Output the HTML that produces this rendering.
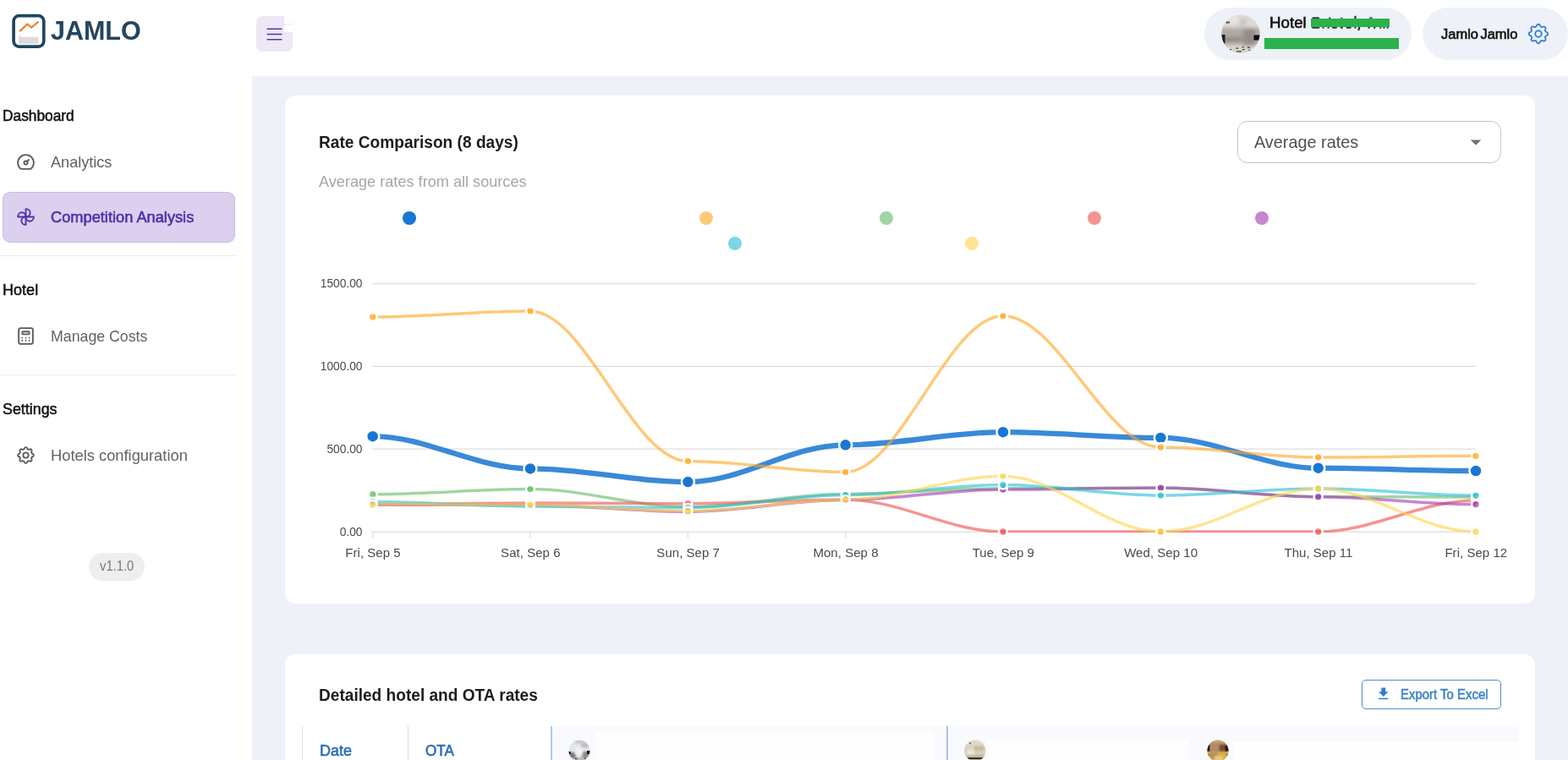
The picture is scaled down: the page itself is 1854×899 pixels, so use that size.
<!DOCTYPE html>
<html lang="en">
<head>
<meta charset="utf-8">
<title>JAMLO - Competition Analysis</title>
<style>
*{box-sizing:border-box}
html,body{margin:0;padding:0}
html{overflow:hidden;background:#fff}
body{width:1854px;height:899px;overflow:hidden;position:relative;background:#fff;
 font-family:"Liberation Sans",sans-serif;color:#212121}
.page{position:absolute;left:0;top:0;width:1854px;height:899px;overflow:hidden;background:#fff}
header,aside,nav,main,section{display:block;position:static;margin:0;padding:0}
.t{position:absolute;margin:0;padding:0;white-space:nowrap;font-weight:normal;text-decoration:none;display:block}
svg{display:block}
.ic{position:absolute}
.bg-main{position:absolute;left:298.3px;top:90px;width:1555.7px;height:809px;background:#eef1f7}
.card{position:absolute;background:#fff;border-radius:12px}
.sel{position:absolute;left:3px;top:227px;width:275px;height:59.5px;border-radius:9px;background:#dbd0ee;box-shadow:inset 0 0 0 1px rgba(110,90,160,.16)}
.hr{position:absolute;left:0;width:280px;height:1px;background:#ebebeb}
.chip{position:absolute;border-radius:31px;background:#eef1f7}
.vchip{position:absolute;left:105.2px;top:654px;width:66px;height:33.2px;border-radius:17px;background:#eeeeee}
.tog{position:absolute;left:303px;top:19px;width:43px;height:42px;border-radius:7px;background:#ede7f6}
.dot{position:absolute;width:16px;height:16px;border-radius:50%}
.select{position:absolute;left:1463px;top:143px;width:312px;height:50px;border:1px solid #c4c4c4;border-radius:12px;background:#fff}
.btn{position:absolute;left:1610px;top:804px;width:165px;height:34.6px;border:1px solid #4d8cc6;border-radius:5px;background:#fff}
.chart{position:absolute;left:337px;top:113px}
.green{position:absolute;background:#2ab24b}
</style>
</head>
<body>
<div class="page">
<div class="bg-main"></div>
<header>
<svg class="ic" style="left:12px;top:14px" width="44" height="46" viewBox="12 14 44 46" role="img" aria-label="logo"><rect x="16.1" y="18.6" width="35.7" height="36.5" rx="6.5" fill="#fff" stroke="#1f4561" stroke-width="3.7"/><path d="M22.2 52V42.1h1.8v1.7h20.2q1.3 0 1.3 1.4v6.8z" fill="#dcdcdf"/><path d="M23.2 37 32.3 28.5 37.2 32.4 45.6 25.6" fill="none" stroke="#e58b3d" stroke-width="2.4" stroke-linejoin="miter"/></svg>
<div class="t" style="top:15px;font-size:32px;line-height:42px;color:#24455f;font-weight:bold;left:60.04px;transform:scale(0.9528,1);transform-origin:0 32px;">JAMLO</div>
<div class="tog"></div><div style="position:absolute;left:336px;top:18px;width:11.5px;height:20px;background:#fff"></div><div style="position:absolute;left:336px;top:28px;width:10px;height:1px;background:#eeebf3"></div>
<svg class="ic" style="left:312.00px;top:28.00px" width="25" height="25" viewBox="0 0 24 24" fill="none" stroke="#5236a8" stroke-width="1.45" stroke-linecap="round" stroke-linejoin="round"><path d="M4 6l16 0"/><path d="M4 12l16 0"/><path d="M4 18l16 0"/></svg>
<div class="chip" style="left:1424px;top:9.3px;width:245px;height:61.4px"></div>
<svg class="ic" style="left:1443.5px;top:17px" width="46" height="46" viewBox="0 0 46 46"><defs><clipPath id="c0"><circle cx="23" cy="23" r="22.6"/></clipPath><filter id="b0" x="-30%" y="-30%" width="160%" height="160%"><feGaussianBlur stdDeviation="2.2"/></filter><filter id="b1" x="-50%" y="-50%" width="200%" height="200%"><feGaussianBlur stdDeviation="0.7"/></filter></defs><g clip-path="url(#c0)"><rect width="46" height="46" fill="#dddad6"/><g filter="url(#b0)"><rect x="-4" y="16" width="54" height="20" fill="#b1a9a4"/><rect x="26" y="17" width="14" height="20" fill="#988b89"/><rect x="3" y="27" width="22" height="5" fill="#8c8777"/><rect x="22" y="5" width="8" height="9" fill="#cbc3c0"/><rect x="-4" y="37" width="54" height="14" fill="#d6d3cd"/><rect x="8" y="2" width="12" height="8" fill="#e9e7e4"/></g><g filter="url(#b1)"><rect x="38.5" y="24.5" width="9" height="6" fill="#0b0a0e"/><rect x="-1" y="24" width="5.5" height="10.5" fill="#1a1d2d"/><rect x="5.5" y="8.5" width="4.5" height="2" fill="#55553f"/><g fill="#3b3b3b"><rect x="9" y="41" width="3" height="1.3"/><rect x="17.5" y="39.5" width="2.6" height="1.3"/><rect x="24.5" y="38" width="2.4" height="1.2"/><rect x="31" y="38.6" width="3" height="1.3"/><rect x="25" y="41" width="2.6" height="1.2"/><rect x="32.5" y="41.8" width="2" height="1.2"/><rect x="18" y="43.3" width="6" height="1.2"/></g></g></g></svg>
<span class="t" style="top:14px;font-size:18.9px;line-height:25px;color:#121212;-webkit-text-stroke:0.6px #121212;left:1500.80px;transform:scale(0.9919,1);transform-origin:0 19px;">Hotel</span>
<svg class="ic" style="left:1548px;top:17px" width="98" height="21" viewBox="1548 17 98 21" fill="#15151c" aria-hidden="true"><rect x="1551.4" y="20.2" width="8.6" height="2.2" rx="1" opacity=".85"/><rect x="1571.2" y="20.4" width="2.1" height="1.8" opacity=".8"/><rect x="1585.3" y="20.6" width="2" height="1.6" opacity=".8"/><rect x="1601.4" y="18.8" width="2.1" height="3.4" opacity=".9"/><rect x="1619.3" y="20.3" width="3.2" height="2" opacity=".75"/><g opacity=".88"><rect x="1551.3" y="31.6" width="8.8" height="2.1"/><rect x="1563.5" y="31.6" width="2.1" height="2"/><rect x="1569.6" y="31.6" width="2.1" height="2"/><rect x="1575.2" y="31.6" width="5.6" height="2.1"/><rect x="1584.8" y="31.6" width="3" height="2.1"/><rect x="1591.8" y="31.6" width="5.8" height="2.1"/><rect x="1601.4" y="31.6" width="2.1" height="2"/><rect x="1606" y="31.6" width="2.2" height="4.4" transform="skewX(-14) translate(8.2 0)"/><rect x="1617.4" y="31.6" width="2.4" height="2"/><rect x="1624" y="31.6" width="2.4" height="2"/><rect x="1631.3" y="31.6" width="2" height="2.1"/><rect x="1635.5" y="31.6" width="2" height="2.1"/><rect x="1639.7" y="31.6" width="2" height="2.1"/></g></svg>
<div class="green" style="left:1550px;top:22px;width:92.9px;height:10px"></div>
<div class="green" style="left:1495px;top:45.1px;width:158.9px;height:12.8px"></div>
<div class="chip" style="left:1682px;top:9.3px;width:171.5px;height:61.4px"></div>
<span class="t" style="top:30px;font-size:16.8px;line-height:22px;color:#121212;-webkit-text-stroke:0.6px #121212;left:1703.85px;transform:scale(0.983,1);transform-origin:0 16px;word-spacing:-2.2px;">Jamlo Jamlo</span>
<svg class="ic" style="left:1804.00px;top:25.00px" width="30" height="30" viewBox="0 0 24 24" fill="none" stroke="#2f80d3" stroke-width="1.5" stroke-linecap="round" stroke-linejoin="round"><path d="M10.325 4.317c.426 -1.756 2.924 -1.756 3.35 0a1.724 1.724 0 0 0 2.573 1.066c1.543 -.94 3.31 .826 2.37 2.37a1.724 1.724 0 0 0 1.065 2.572c1.756 .426 1.756 2.924 0 3.35a1.724 1.724 0 0 0 -1.066 2.573c.94 1.543 -.826 3.31 -2.37 2.37a1.724 1.724 0 0 0 -2.572 1.065c-.426 1.756 -2.924 1.756 -3.35 0a1.724 1.724 0 0 0 -2.573 -1.066c-1.543 .94 -3.31 -.826 -2.37 -2.37a1.724 1.724 0 0 0 -1.065 -2.572c-1.756 -.426 -1.756 -2.924 0 -3.35a1.724 1.724 0 0 0 1.066 -2.573c-.94 -1.543 .826 -3.31 2.37 -2.37c1 .608 2.296 .07 2.572 -1.065z"/><path d="M9 12a3 3 0 1 0 6 0a3 3 0 0 0 -6 0"/></svg>
</header>
<aside><nav>
<h6 class="t" style="top:125px;font-size:18.1px;line-height:24px;color:#121212;-webkit-text-stroke:0.5px #121212;left:3.36px;transform:scale(0.9571,1);transform-origin:0 18px;">Dashboard</h6>
<svg class="ic" style="left:17.90px;top:179.20px" width="25" height="25" viewBox="0 0 24 24" fill="none" stroke="#5a5a5a" stroke-width="1.8" stroke-linecap="round" stroke-linejoin="round"><path d="M10 13a2 2 0 1 0 4 0a2 2 0 1 0 -4 0"/><path d="M13.45 11.55l2.05 -2.05"/><path d="M6.4 20a9 9 0 1 1 11.2 0z"/></svg>
<a class="t" style="top:180px;font-size:18.1px;line-height:24px;color:#606266;left:59.70px;transform:scale(1.0001,1);transform-origin:0 18px;">Analytics</a>
<div class="sel"></div>
<svg class="ic" style="left:17.90px;top:243.90px" width="25" height="25" viewBox="0 0 24 24" fill="none" stroke="#5330ad" stroke-width="1.8" stroke-linecap="round" stroke-linejoin="round"><path d="M12 12c2.76 0 5 -2.01 5 -4.5s-2.24 -4.5 -5 -4.5v9z"/><path d="M12 12c0 2.76 2.01 5 4.5 5s4.5 -2.24 4.5 -5h-9z"/><path d="M12 12c-2.76 0 -5 2.01 -5 4.5s2.24 4.5 5 4.5v-9z"/><path d="M12 12c0 -2.76 -2.01 -5 -4.5 -5s-4.5 2.24 -4.5 5h9z"/></svg>
<a class="t" style="top:245px;font-size:18.1px;line-height:24px;color:#5330ad;-webkit-text-stroke:0.6px #5330ad;left:59.59px;transform:scale(1.008,1);transform-origin:0 18px;">Competition Analysis</a>
<div class="hr" style="top:302px"></div>
<h6 class="t" style="top:331px;font-size:18.1px;line-height:24px;color:#121212;-webkit-text-stroke:0.5px #121212;left:3.30px;transform:scale(0.998,1);transform-origin:0 18px;">Hotel</h6>
<svg class="ic" style="left:18.00px;top:385.00px" width="25" height="25" viewBox="0 0 24 24" fill="none" stroke="#5a5a5a" stroke-width="1.8" stroke-linecap="round" stroke-linejoin="round"><path d="M4 5a2 2 0 0 1 2 -2h12a2 2 0 0 1 2 2v14a2 2 0 0 1 -2 2h-12a2 2 0 0 1 -2 -2z"/><path d="M8 8a1 1 0 0 1 1 -1h6a1 1 0 0 1 1 1v1a1 1 0 0 1 -1 1h-6a1 1 0 0 1 -1 -1z"/><path d="M8 14l0 .01"/><path d="M12 14l0 .01"/><path d="M16 14l0 .01"/><path d="M8 17l0 .01"/><path d="M12 17l0 .01"/><path d="M16 17l0 .01"/></svg>
<a class="t" style="top:386px;font-size:18.1px;line-height:24px;color:#606266;left:59.78px;transform:scale(0.9806,1);transform-origin:0 18px;">Manage Costs</a>
<div class="hr" style="top:443px"></div>
<h6 class="t" style="top:472px;font-size:18.1px;line-height:24px;color:#121212;-webkit-text-stroke:0.5px #121212;left:3.45px;transform:scale(0.9867,1);transform-origin:0 18px;">Settings</h6>
<svg class="ic" style="left:17.90px;top:526.00px" width="25" height="25" viewBox="0 0 24 24" fill="none" stroke="#5a5a5a" stroke-width="1.8" stroke-linecap="round" stroke-linejoin="round"><path d="M10.325 4.317c.426 -1.756 2.924 -1.756 3.35 0a1.724 1.724 0 0 0 2.573 1.066c1.543 -.94 3.31 .826 2.37 2.37a1.724 1.724 0 0 0 1.065 2.572c1.756 .426 1.756 2.924 0 3.35a1.724 1.724 0 0 0 -1.066 2.573c.94 1.543 -.826 3.31 -2.37 2.37a1.724 1.724 0 0 0 -2.572 1.065c-.426 1.756 -2.924 1.756 -3.35 0a1.724 1.724 0 0 0 -2.573 -1.066c-1.543 .94 -3.31 -.826 -2.37 -2.37a1.724 1.724 0 0 0 -1.065 -2.572c-1.756 -.426 -1.756 -2.924 0 -3.35a1.724 1.724 0 0 0 1.066 -2.573c-.94 -1.543 .826 -3.31 2.37 -2.37c1 .608 2.296 .07 2.572 -1.065z"/><path d="M9 12a3 3 0 1 0 6 0a3 3 0 0 0 -6 0"/></svg>
<a class="t" style="top:527px;font-size:18.1px;line-height:24px;color:#606266;left:59.73px;transform:scale(1.0119,1);transform-origin:0 18px;">Hotels configuration</a>
<div class="vchip"></div>
<span class="t" style="top:659px;font-size:16.2px;line-height:21px;color:#7a7a7a;left:118.30px;transform:scale(0.9117,1);transform-origin:0 16px;">v1.1.0</span>
</nav></aside>
<main>
<section>
<div class="card" style="left:336.6px;top:113px;width:1478.4px;height:601px"></div>
<h3 class="t" style="top:154px;font-size:20.7px;line-height:27px;color:#1c1c1c;font-weight:bold;left:377.36px;transform:scale(0.924,1);transform-origin:0 21px;">Rate Comparison (8 days)</h3>
<p class="t" style="top:203px;font-size:18.1px;line-height:24px;color:#a6a6a6;left:376.80px;transform:scale(1.0021,1);transform-origin:0 18px;">Average rates from all sources</p>
<div class="select"></div>
<span class="t" style="top:154px;font-size:20.7px;line-height:27px;color:#4f4f4f;left:1483.00px;transform:scale(0.9587,1);transform-origin:0 21px;">Average rates</span>
<svg class="ic" style="left:1730px;top:152.8px" width="30" height="30" viewBox="0 0 24 24"><path d="M7 10l5 5 5-5z" fill="#707070"/></svg>
<i class="dot" style="left:476.0px;top:249.8px;background:#1976d2;opacity:1"></i>
<i class="dot" style="left:827.0px;top:249.8px;background:#ffa726;opacity:0.62"></i>
<i class="dot" style="left:1039.8px;top:249.8px;background:#66bb6a;opacity:0.62"></i>
<i class="dot" style="left:1286.0px;top:249.8px;background:#ef5350;opacity:0.62"></i>
<i class="dot" style="left:1484.0px;top:249.8px;background:#a13cb4;opacity:0.62"></i>
<i class="dot" style="left:861.0px;top:280.0px;background:#2bbfd3;opacity:0.62"></i>
<i class="dot" style="left:1140.8px;top:280.0px;background:#ffd54f;opacity:0.62"></i>
<svg class="chart" width="1478" height="601" viewBox="337 113 1478 601" role="img" aria-label="Rate comparison line chart">
<defs><clipPath id="plot"><rect x="438" y="320" width="1310" height="310"/></clipPath></defs>
<g stroke="#dedede" stroke-width="1.25" fill="none">
<path d="M440.1 335.5H1745.2"/>
<path d="M440.1 433.3H1745.2"/>
<path d="M440.1 531.2H1745.2"/>
<path d="M440.1 629.1H1745.2"/>
<path d="M440.7 629.1V636.5"/>
<path d="M627.0 629.1V636.5"/>
<path d="M813.4 629.1V636.5"/>
<path d="M999.7 629.1V636.5"/>
<path d="M1186.0 629.1V636.5"/>
<path d="M1372.4 629.1V636.5"/>
<path d="M1558.7 629.1V636.5"/>
<path d="M1745.0 629.1V636.5"/>
</g>
<g class="s-blue">
<path d="M440.7 516.2C505.9 516.2 561.8 554.4 627.0 554.4C692.2 554.4 748.1 570.1 813.4 570.1C878.6 570.1 934.5 526.3 999.7 526.3C1064.9 526.3 1120.8 511.2 1186.0 511.2C1251.2 511.2 1307.1 517.9 1372.4 517.9C1437.6 517.9 1493.5 553.7 1558.7 553.7C1623.9 553.7 1679.8 557.0 1745.0 557.0" fill="none" stroke="#1976d2" stroke-opacity="0.86" stroke-width="6.3" stroke-linecap="butt" stroke-linejoin="round" clip-path="url(#plot)"/>
<g fill="#1976d2" fill-opacity="1" stroke="#fff" stroke-width="2.5">
<circle cx="440.7" cy="516.2" r="7.5"/>
<circle cx="627.0" cy="554.4" r="7.5"/>
<circle cx="813.4" cy="570.1" r="7.5"/>
<circle cx="999.7" cy="526.3" r="7.5"/>
<circle cx="1186.0" cy="511.2" r="7.5"/>
<circle cx="1372.4" cy="517.9" r="7.5"/>
<circle cx="1558.7" cy="553.7" r="7.5"/>
<circle cx="1745.0" cy="557.0" r="7.5"/>
</g>
</g>
<g class="s-orange">
<path d="M440.7 375.0C505.9 375.0 561.8 368.0 627.0 368.0C692.2 368.0 748.1 545.5 813.4 545.5C878.6 545.5 934.5 558.4 999.7 558.4C1064.9 558.4 1120.8 373.8 1186.0 373.8C1251.2 373.8 1307.1 529.0 1372.4 529.0C1437.6 529.0 1493.5 541.0 1558.7 541.0C1623.9 541.0 1679.8 539.3 1745.0 539.3" fill="none" stroke="#ffa726" stroke-opacity="0.62" stroke-width="3.5" stroke-linecap="butt" stroke-linejoin="round" clip-path="url(#plot)"/>
<g fill="#ffa726" fill-opacity="0.74" stroke="#fff" stroke-width="2.5">
<circle cx="440.7" cy="375.0" r="4.9"/>
<circle cx="627.0" cy="368.0" r="4.9"/>
<circle cx="813.4" cy="545.5" r="4.9"/>
<circle cx="999.7" cy="558.4" r="4.9"/>
<circle cx="1186.0" cy="373.8" r="4.9"/>
<circle cx="1372.4" cy="529.0" r="4.9"/>
<circle cx="1558.7" cy="541.0" r="4.9"/>
<circle cx="1745.0" cy="539.3" r="4.9"/>
</g>
</g>
<g class="s-green">
<path d="M440.7 584.7C505.9 584.7 561.8 578.6 627.0 578.6C692.2 578.6 748.1 599.6 813.4 599.6C878.6 599.6 934.5 584.2 999.7 584.2C1064.9 584.2 1120.8 577.8 1186.0 577.8C1251.2 577.8 1307.1 577.3 1372.4 577.3C1437.6 577.3 1493.5 587.5 1558.7 587.5C1623.9 587.5 1679.8 588.0 1745.0 588.0" fill="none" stroke="#66bb6a" stroke-opacity="0.62" stroke-width="3.5" stroke-linecap="butt" stroke-linejoin="round" clip-path="url(#plot)"/>
<g fill="#66bb6a" fill-opacity="0.74" stroke="#fff" stroke-width="2.5">
<circle cx="440.7" cy="584.7" r="4.9"/>
<circle cx="627.0" cy="578.6" r="4.9"/>
<circle cx="813.4" cy="599.6" r="4.9"/>
<circle cx="999.7" cy="584.2" r="4.9"/>
<circle cx="1186.0" cy="577.8" r="4.9"/>
<circle cx="1372.4" cy="577.3" r="4.9"/>
<circle cx="1558.7" cy="587.5" r="4.9"/>
<circle cx="1745.0" cy="588.0" r="4.9"/>
</g>
</g>
<g class="s-red">
<path d="M440.7 596.8C505.9 596.8 561.8 595.0 627.0 595.0C692.2 595.0 748.1 595.7 813.4 595.7C878.6 595.7 934.5 590.9 999.7 590.9C1064.9 590.9 1120.8 629.0 1186.0 629.0C1251.2 629.0 1307.1 629.0 1372.4 629.0C1437.6 629.0 1493.5 629.0 1558.7 629.0C1623.9 629.0 1679.8 592.0 1745.0 592.0" fill="none" stroke="#ef5350" stroke-opacity="0.62" stroke-width="3.5" stroke-linecap="butt" stroke-linejoin="round" clip-path="url(#plot)"/>
<g fill="#ef5350" fill-opacity="0.74" stroke="#fff" stroke-width="2.5">
<circle cx="440.7" cy="596.8" r="4.9"/>
<circle cx="627.0" cy="595.0" r="4.9"/>
<circle cx="813.4" cy="595.7" r="4.9"/>
<circle cx="999.7" cy="590.9" r="4.9"/>
<circle cx="1186.0" cy="629.0" r="4.9"/>
<circle cx="1372.4" cy="629.0" r="4.9"/>
<circle cx="1558.7" cy="629.0" r="4.9"/>
<circle cx="1745.0" cy="592.0" r="4.9"/>
</g>
</g>
<g class="s-purple">
<path d="M440.7 597.0C505.9 597.0 561.8 597.4 627.0 597.4C692.2 597.4 748.1 605.2 813.4 605.2C878.6 605.2 934.5 591.2 999.7 591.2C1064.9 591.2 1120.8 579.0 1186.0 579.0C1251.2 579.0 1307.1 577.1 1372.4 577.1C1437.6 577.1 1493.5 587.7 1558.7 587.7C1623.9 587.7 1679.8 596.6 1745.0 596.6" fill="none" stroke="#a13cb4" stroke-opacity="0.62" stroke-width="3.5" stroke-linecap="butt" stroke-linejoin="round" clip-path="url(#plot)"/>
<g fill="#a13cb4" fill-opacity="0.74" stroke="#fff" stroke-width="2.5">
<circle cx="440.7" cy="597.0" r="4.9"/>
<circle cx="627.0" cy="597.4" r="4.9"/>
<circle cx="813.4" cy="605.2" r="4.9"/>
<circle cx="999.7" cy="591.2" r="4.9"/>
<circle cx="1186.0" cy="579.0" r="4.9"/>
<circle cx="1372.4" cy="577.1" r="4.9"/>
<circle cx="1558.7" cy="587.7" r="4.9"/>
<circle cx="1745.0" cy="596.6" r="4.9"/>
</g>
</g>
<g class="s-teal">
<path d="M440.7 593.6C505.9 593.6 561.8 599.0 627.0 599.0C692.2 599.0 748.1 600.6 813.4 600.6C878.6 600.6 934.5 585.6 999.7 585.6C1064.9 585.6 1120.8 573.6 1186.0 573.6C1251.2 573.6 1307.1 586.1 1372.4 586.1C1437.6 586.1 1493.5 578.0 1558.7 578.0C1623.9 578.0 1679.8 586.1 1745.0 586.1" fill="none" stroke="#2bbfd3" stroke-opacity="0.62" stroke-width="3.5" stroke-linecap="butt" stroke-linejoin="round" clip-path="url(#plot)"/>
<g fill="#2bbfd3" fill-opacity="0.74" stroke="#fff" stroke-width="2.5">
<circle cx="440.7" cy="593.6" r="4.9"/>
<circle cx="627.0" cy="599.0" r="4.9"/>
<circle cx="813.4" cy="600.6" r="4.9"/>
<circle cx="999.7" cy="585.6" r="4.9"/>
<circle cx="1186.0" cy="573.6" r="4.9"/>
<circle cx="1372.4" cy="586.1" r="4.9"/>
<circle cx="1558.7" cy="578.0" r="4.9"/>
<circle cx="1745.0" cy="586.1" r="4.9"/>
</g>
</g>
<g class="s-yellow">
<path d="M440.7 596.8C505.9 596.8 561.8 597.0 627.0 597.0C692.2 597.0 748.1 604.5 813.4 604.5C878.6 604.5 934.5 590.9 999.7 590.9C1064.9 590.9 1120.8 563.3 1186.0 563.3C1251.2 563.3 1307.1 629.0 1372.4 629.0C1437.6 629.0 1493.5 578.0 1558.7 578.0C1623.9 578.0 1679.8 629.0 1745.0 629.0" fill="none" stroke="#ffd54f" stroke-opacity="0.62" stroke-width="3.5" stroke-linecap="butt" stroke-linejoin="round" clip-path="url(#plot)"/>
<g fill="#ffd54f" fill-opacity="0.74" stroke="#fff" stroke-width="2.5">
<circle cx="440.7" cy="596.8" r="4.9"/>
<circle cx="627.0" cy="597.0" r="4.9"/>
<circle cx="813.4" cy="604.5" r="4.9"/>
<circle cx="999.7" cy="590.9" r="4.9"/>
<circle cx="1186.0" cy="563.3" r="4.9"/>
<circle cx="1372.4" cy="629.0" r="4.9"/>
<circle cx="1558.7" cy="578.0" r="4.9"/>
<circle cx="1745.0" cy="629.0" r="4.9"/>
</g>
</g>
</svg>
<span class="t" style="top:327px;font-size:13.75px;line-height:18px;color:#454b4d;right:1425.50px;">1500.00</span>
<span class="t" style="top:425px;font-size:13.75px;line-height:18px;color:#454b4d;right:1425.50px;">1000.00</span>
<span class="t" style="top:523px;font-size:13.75px;line-height:18px;color:#454b4d;right:1425.50px;">500.00</span>
<span class="t" style="top:621px;font-size:13.75px;line-height:18px;color:#454b4d;right:1425.50px;">0.00</span>
<span class="t" style="top:644px;font-size:15px;line-height:20px;color:#454b4d;letter-spacing:0.04px;left:291.00px;width:300px;text-align:center;">Fri, Sep 5</span>
<span class="t" style="top:644px;font-size:15px;line-height:20px;color:#454b4d;letter-spacing:0.04px;left:477.33px;width:300px;text-align:center;">Sat, Sep 6</span>
<span class="t" style="top:644px;font-size:15px;line-height:20px;color:#454b4d;letter-spacing:0.04px;left:663.66px;width:300px;text-align:center;">Sun, Sep 7</span>
<span class="t" style="top:644px;font-size:15px;line-height:20px;color:#454b4d;letter-spacing:0.04px;left:849.99px;width:300px;text-align:center;">Mon, Sep 8</span>
<span class="t" style="top:644px;font-size:15px;line-height:20px;color:#454b4d;letter-spacing:0.04px;left:1036.32px;width:300px;text-align:center;">Tue, Sep 9</span>
<span class="t" style="top:644px;font-size:15px;line-height:20px;color:#454b4d;letter-spacing:0.04px;left:1222.65px;width:300px;text-align:center;">Wed, Sep 10</span>
<span class="t" style="top:644px;font-size:15px;line-height:20px;color:#454b4d;letter-spacing:0.04px;left:1408.98px;width:300px;text-align:center;">Thu, Sep 11</span>
<span class="t" style="top:644px;font-size:15px;line-height:20px;color:#454b4d;letter-spacing:0.04px;left:1595.31px;width:300px;text-align:center;">Fri, Sep 12</span>
</section>
<section>
<div class="card" style="left:336.6px;top:774px;width:1478.4px;height:140px"></div>
<h3 class="t" style="top:808px;font-size:20.7px;line-height:27px;color:#1c1c1c;font-weight:bold;left:377.36px;transform:scale(0.9229,1);transform-origin:0 21px;">Detailed hotel and OTA rates</h3>
<div class="btn"></div>
<svg class="ic" style="left:1625.85px;top:811.3px" width="19.5" height="19.5" viewBox="0 0 24 24"><path d="M19 9h-4V3H9v6H5l7 7 7-7zM5 18v2h14v-2H5z" fill="#2e7dd1"/></svg>
<span class="t" style="top:811px;font-size:16.0px;line-height:21px;color:#3a80c6;-webkit-text-stroke:0.5px #3a80c6;left:1655.85px;transform:scale(0.934,1);transform-origin:0 16px;">Export To Excel</span>
<div style="position:absolute;left:652px;top:859.5px;width:1144px;height:40px;background:#f8fafd"></div>
<div style="position:absolute;left:357px;top:858px;width:1px;height:41px;background:#e0e0e0"></div>
<div style="position:absolute;left:482px;top:858px;width:1px;height:41px;background:#e0e0e0"></div>
<div style="position:absolute;left:650.5px;top:859px;width:2px;height:40px;background:#b0cae8"></div>
<div style="position:absolute;left:1118.6px;top:859px;width:2.2px;height:40px;background:#b4bfd9"></div>
<div style="position:absolute;left:704px;top:865px;width:401px;height:34px;background:#fefefe"></div>
<div style="position:absolute;left:1169px;top:874px;width:235px;height:25px;background:#fefefe"></div>
<div style="position:absolute;left:1458px;top:877px;width:338px;height:22px;background:#fefefe"></div>
<span class="t" style="top:876px;font-size:18.1px;line-height:24px;color:#2d6db5;-webkit-text-stroke:0.6px #2d6db5;left:378.16px;transform:scale(0.9933,1);transform-origin:0 18px;">Date</span>
<span class="t" style="top:876px;font-size:18.1px;line-height:24px;color:#2d6db5;-webkit-text-stroke:0.6px #2d6db5;left:502.93px;transform:scale(0.9458,1);transform-origin:0 18px;">OTA</span>
<svg class="ic" style="left:672.3px;top:875.3px" width="26" height="26" viewBox="0 0 26 26"><defs><clipPath id="ca1"><circle cx="13" cy="13" r="12.5"/></clipPath><filter id="fa1" x="-40%" y="-40%" width="180%" height="180%"><feGaussianBlur stdDeviation="1.1"/></filter><filter id="fb1" x="-60%" y="-60%" width="220%" height="220%"><feGaussianBlur stdDeviation="0.5"/></filter></defs><g clip-path="url(#ca1)"><rect width="26" height="26" fill="#e4e6e8"/><g filter="url(#fa1)"><rect x="8" y="0" width="14" height="5" fill="#c9cbcc"/><rect x="15" y="5" width="9" height="4" fill="#b9babb"/><rect x="1" y="15" width="8" height="8" fill="#77787a"/><rect x="16" y="14" width="9" height="8" fill="#8a8a8c"/><rect x="8" y="9" width="9" height="9" fill="#eef0f2"/><rect x="6" y="21" width="16" height="5" fill="#b9b9ba"/></g><g filter="url(#fb1)"><rect x="0" y="14" width="2.6" height="3.2" fill="#050505"/><rect x="22" y="13.2" width="4" height="3.6" fill="#050505"/><rect x="8" y="21.8" width="2.4" height="1" fill="#111"/><rect x="19" y="21.5" width="1.8" height="1.2" fill="#222"/></g></g></svg><svg class="ic" style="left:1140.3px;top:875.2px" width="26" height="26" viewBox="0 0 26 26"><defs><clipPath id="ca2"><circle cx="13" cy="13" r="12.5"/></clipPath><filter id="fa2" x="-40%" y="-40%" width="180%" height="180%"><feGaussianBlur stdDeviation="1.1"/></filter><filter id="fb2" x="-60%" y="-60%" width="220%" height="220%"><feGaussianBlur stdDeviation="0.5"/></filter></defs><g clip-path="url(#ca2)"><rect width="26" height="26" fill="#d8d2c0"/><g filter="url(#fa2)"><rect x="2" y="0" width="22" height="6" fill="#e4d8c6"/><rect x="12" y="8" width="11" height="5" fill="#c2b8a2"/><rect x="3" y="12" width="9" height="6" fill="#ebe5d3"/><rect x="2" y="18" width="22" height="5" fill="#bdb5a0"/><rect x="-2" y="3" width="4" height="20" fill="#c9c8cc"/></g><g filter="url(#fb2)"><rect x="3" y="21" width="20" height="2.2" fill="#3a3226"/><rect x="6.4" y="3.4" width="1.6" height="1.6" fill="#5a5048"/></g></g></svg><svg class="ic" style="left:1427.4px;top:875.3px" width="26" height="26" viewBox="0 0 26 26"><defs><clipPath id="ca3"><circle cx="13" cy="13" r="12.5"/></clipPath><filter id="fa3" x="-40%" y="-40%" width="180%" height="180%"><feGaussianBlur stdDeviation="1.1"/></filter><filter id="fb3" x="-60%" y="-60%" width="220%" height="220%"><feGaussianBlur stdDeviation="0.5"/></filter></defs><g clip-path="url(#ca3)"><rect width="26" height="26" fill="#a97c5c"/><g filter="url(#fa3)"><rect x="3" y="-1" width="20" height="5" fill="#c9a56e"/><rect x="4" y="5" width="10" height="8" fill="#b08a70"/><rect x="15" y="6" width="8" height="10" fill="#7c4a30"/><rect x="0" y="14" width="26" height="12" fill="#d6b04c"/><rect x="4" y="15" width="9" height="8" fill="#b98a60"/><rect x="9" y="19" width="10" height="7" fill="#e6c878"/></g><g filter="url(#fb3)"><rect x="-1" y="6" width="4.4" height="7.6" fill="#23130f"/><rect x="21.6" y="6.6" width="5" height="7" fill="#2a1713"/><rect x="1" y="17.4" width="3" height="1" fill="#7a6420"/><rect x="22" y="17.4" width="3" height="1" fill="#7a6420"/></g></g></svg>
</section>
</main>
</div>
</body>
</html>
